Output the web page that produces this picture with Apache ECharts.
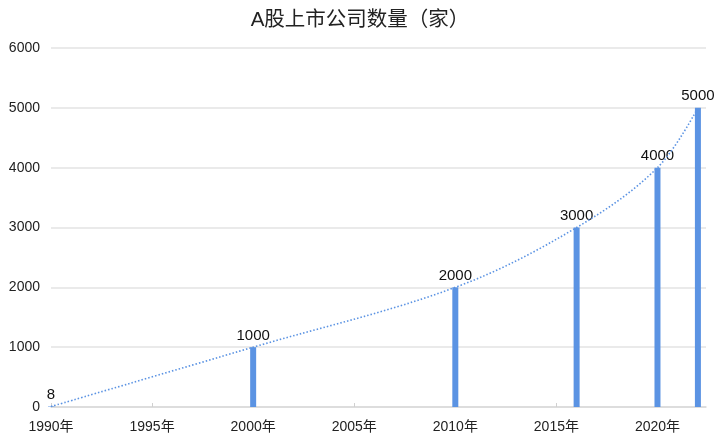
<!DOCTYPE html>
<html>
<head>
<meta charset="utf-8">
<script src="https://cdn.jsdelivr.net/npm/echarts@6/dist/echarts.min.js"></script>
<style>
  html, body { margin: 0; padding: 0; background: #fff; }
  #chart { width: 720px; height: 441px; }
</style>
</head>
<body>
<div id="chart"></div>
<script>
// A-share listed companies over time
const years = [1990, 2000, 2010, 2016, 2020, 2022];
const companies = [8, 1000, 2000, 3000, 4000, 5000];
const yTicks = [0, 1000, 2000, 3000, 4000, 5000, 6000];

const FONT = 'Arial, "Liberation Sans", "Noto Sans CJK SC", sans-serif';
const points = years.map((y, i) => [y, companies[i]]);

const chart = echarts.init(document.getElementById('chart'), null, { renderer: 'canvas' });
chart.setOption({
  animation: false,
  textStyle: { fontFamily: FONT },
  title: {
    text: 'A股上市公司数量（家）',
    left: 'center',
    top: 5,
    textStyle: { fontSize: 20.5, fontWeight: 'normal', color: '#222', fontFamily: FONT }
  },
  grid: { left: 51, right: 14, top: 48, bottom: 34, containLabel: false },
  xAxis: {
    type: 'value',
    min: 1990,
    max: 2022.4,
    interval: 5,
    splitLine: { show: false },
    axisLine: { show: true, lineStyle: { color: '#d9d9d9', width: 1.5 } },
    axisTick: { show: true, inside: true, length: 4, lineStyle: { color: '#d0d0d0' } },
    axisLabel: {
      color: '#222',
      fontSize: 14,
      margin: 13,
      showMaxLabel: false,
      formatter: v => (v % 5 === 0 ? v + '年' : '')
    }
  },
  yAxis: {
    type: 'value',
    min: yTicks[0],
    max: yTicks[yTicks.length - 1],
    interval: 1000,
    axisLine: { show: false },
    axisTick: { show: false },
    splitLine: { lineStyle: { color: '#e3e3e3', width: 1.5 } },
    axisLabel: { color: '#222', fontSize: 14, margin: 11, formatter: v => String(v) }
  },
  series: [
    {
      type: 'bar',
      data: points,
      barWidth: 6,
      itemStyle: { color: '#5b93e3' },
      label: {
        show: true,
        position: 'top',
        distance: 4,
        color: '#111',
        fontSize: 15,
        formatter: p => p.value[1]
      },
      z: 2
    },
    {
      type: 'line',
      data: points,
      smooth: 0.35,
      symbol: 'none',
      lineStyle: { color: '#5b93e3', width: 1.6, type: [1.5, 2] },
      z: 3
    }
  ]
});
</script>
</body>
</html>
